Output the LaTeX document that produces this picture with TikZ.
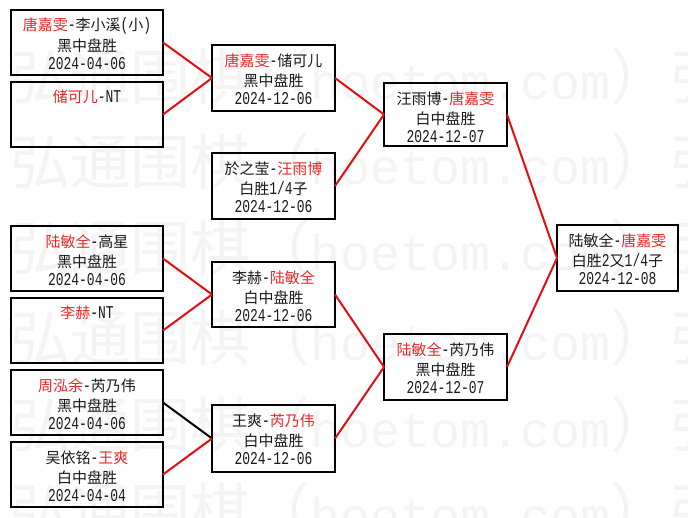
\documentclass[tikz,border=0pt]{standalone}
\usepackage{fontspec}
\setmainfont{Noto Sans CJK SC}
\newfontfamily\datefont[FakeStretch=0.72]{Liberation Mono}
\newfontfamily\wmfont{Liberation Mono}
\definecolor{tred}{RGB}{232,40,40}
\definecolor{lred}{RGB}{228,16,16}
\definecolor{wmgray}{RGB}{244,244,244}
\newcommand\R[1]{\textcolor{tred}{#1}}
\newcommand\m[1]{{\datefont\fontsize{13.5pt}{14pt}\selectfont #1}}
\tikzset{
 box/.style={draw=black, line width=1.5pt, inner sep=0pt, outer sep=0pt},
 txt/.style={inner sep=0pt, font=\fontsize{11.25pt}{14pt}\selectfont, text=black!90},
 datetxt/.style={inner sep=0pt, font=\datefont\fontsize{13.5pt}{14pt}\selectfont, text=black!90},
 win/.style={draw=lred, line width=1.5pt},
 lose/.style={draw=black, line width=1.5pt},
 wm/.style={inner sep=0pt, anchor=west, text=wmgray, font=\fontsize{45pt}{50pt}\selectfont},
}
% name, x1, y1, x2, y2, line1, line2, line3
\newcommand\bx[8]{%
 \node[box, minimum width={(#4-#2)*0.75pt}, minimum height={(#5-#3)*0.75pt}] (#1) at ({(#2+#4)/2},{(#3+#5)/2}) {};
 \node[txt] (#1a) at ({(#2+#4)/2},{#3+16}) {#6};
 \node[txt] (#1b) at ({(#2+#4)/2},{#3+35.5}) {#7};
 \node[datetxt] (#1c) at ({(#2+#4)/2},{#3+54}) {#8};
}
\newcommand\bxone[6]{%
 \node[box, minimum width={(#4-#2)*0.75pt}, minimum height={(#5-#3)*0.75pt}] (#1) at ({(#2+#4)/2},{(#3+#5)/2}) {};
 \node[txt] (#1a) at ({(#2+#4)/2},{#3+15}) {#6};
}
\begin{document}
\begin{tikzpicture}[x=0.75pt,y=-0.75pt]
\fill[white] (0,0) rectangle (688,517);
\useasboundingbox (0,0) rectangle (688,517);
\begin{scope}
\clip (0,0) rectangle (688,517);
\foreach \yy [count=\i] in {77,162,248,338,425,511}{
 \node[wm] (wm\i) at (10,\yy) {弘通围棋（{\wmfont\fontsize{37.5pt}{40pt}\selectfont hoetom.com}）弘};
}
\end{scope}

\bx{A}{11}{10}{163}{75}{\R{唐嘉雯}\m{-}李小溪\m{(}小\m{)}}{黑中盘胜}{2024-04-06}
\bxone{B}{11}{82}{163}{147}{\R{储可儿}\m{-NT}}
\bx{C}{11}{226}{163}{291}{\R{陆敏全}\m{-}高星}{黑中盘胜}{2024-04-06}
\bxone{D}{11}{298}{163}{363}{\R{李赫}\m{-NT}}
\bx{E}{11}{370}{163}{435}{\R{周泓余}\m{-}芮乃伟}{黑中盘胜}{2024-04-06}
\bx{F}{11}{442}{163}{507}{吴依铭\m{-}\R{王爽}}{白中盘胜}{2024-04-04}

\bx{G}{212}{45}{335}{111}{\R{唐嘉雯}\m{-}储可儿}{黑中盘胜}{2024-12-06}
\bx{H}{212}{153}{335}{219}{於之莹\m{-}\R{汪雨博}}{白胜\m{1/4}子}{2024-12-06}
\bx{I}{212}{262}{335}{327}{李赫\m{-}\R{陆敏全}}{白中盘胜}{2024-12-06}
\bx{J}{212}{405}{335}{472}{王爽\m{-}\R{芮乃伟}}{白中盘胜}{2024-12-06}

\bx{K}{384}{83}{507}{146}{汪雨博\m{-}\R{唐嘉雯}}{白中盘胜}{2024-12-07}
\bx{L}{384}{334}{507}{400}{\R{陆敏全}\m{-}芮乃伟}{黑中盘胜}{2024-12-07}

\bx{M}{557}{225}{678}{291}{陆敏全\m{-}\R{唐嘉雯}}{白胜\m{2}又\m{1/4}子}{2024-12-08}

\draw[win] (A.east) -- (G.west);
\draw[win] (B.east) -- (G.west);
\draw[win] (C.east) -- (I.west);
\draw[win] (D.east) -- (I.west);
\draw[lose] (E.east) -- (J.west);
\draw[win] (F.east) -- (J.west);
\draw[win] (G.east) -- (K.west);
\draw[win] (H.east) -- (K.west);
\draw[win] (I.east) -- (L.west);
\draw[win] (J.east) -- (L.west);
\draw[win] (K.east) -- (M.west);
\draw[win] (L.east) -- (M.west);
\end{tikzpicture}
\end{document}
